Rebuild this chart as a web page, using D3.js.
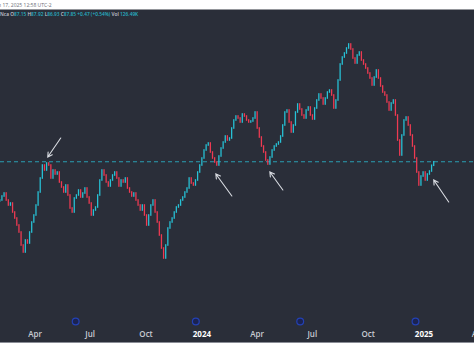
<!DOCTYPE html>
<html><head><meta charset="utf-8">
<script src="https://cdn.jsdelivr.net/npm/d3@7"></script>
<style>html,body{margin:0;padding:0;background:#fff;overflow:hidden}</style>
</head><body><svg id="c" width="474" height="356"></svg>
<script>
// ---- data ----
const startDate = "2023-02-02";
const endDate = "2025-01-17";
const firstOpen = 80.0;
const closes = [
80.2,81.0,81.6,80.2,79.2,79.6,77.8,76.6,75.2,73.8,71.2,69.8,72.2,71.6,73.8,75.8,77.2,79.2,81.8,84.6,
87.2,86.2,87.6,87.2,84.6,86.2,85.4,85.8,83.8,82.8,81.8,83.2,81.2,78.6,77.8,80.6,81.2,82.2,80.8,81.6,
82.6,80.8,79.6,77.2,78.2,78.8,81.2,84.2,86.2,85.2,83.8,83.0,84.2,85.2,85.8,84.6,83.0,84.2,83.8,84.6,
82.6,81.8,81.0,81.6,80.2,79.2,78.2,79.2,77.2,75.2,77.2,79.2,80.2,77.8,75.8,73.2,70.6,68.6,71.2,74.6,
75.8,76.6,77.8,78.8,79.2,80.2,80.8,81.8,82.6,84.6,83.6,83.2,84.2,85.8,87.2,88.6,90.2,91.2,91.6,89.8,
88.6,87.8,87.2,89.0,90.6,91.8,93.0,92.2,92.6,94.6,96.2,97.0,96.6,95.8,97.4,97.0,96.2,95.8,96.0,96.6,
97.8,94.6,92.8,91.0,89.8,88.2,87.4,88.8,90.2,91.0,91.4,91.8,93.0,95.2,97.8,98.2,95.8,93.8,95.2,97.8,
99.4,98.4,97.2,96.6,98.2,98.8,97.2,96.4,98.6,100.2,101.4,100.6,99.4,100.6,101.8,102.2,101.2,98.6,100.2,104.2,
107.4,108.8,109.6,110.6,111.4,110.4,108.6,107.6,109.2,109.8,108.2,107.4,106.6,105.6,104.6,103.2,104.8,106.2,104.6,103.0,
101.8,101.2,99.8,98.2,99.6,100.2,97.2,92.2,89.2,93.2,96.2,96.8,95.2,93.2,91.0,88.6,85.8,83.2,85.0,85.8,
84.2,85.4,86.0,87.15,87.85
];
const tickDates = ["2023-04-01","2023-07-01","2023-10-01","2024-01-01","2024-04-01","2024-07-01","2024-10-01","2025-01-01","2025-04-01"];
const tickLabels = ["Apr","Jul","Oct","2024","Apr","Jul","Oct","2025","Apr"];
const dividendDates = ["2023-06-07","2023-12-22","2024-06-11","2024-12-18"];
const levelPrice = 87.85;
const arrowTipDates = ["2023-04-22","2024-01-24","2024-04-22","2025-01-17"];
const arrowTipPrices = [88.8, 85.4, 85.8, 84.2];
const headerDate = "Jan 17, 2025 12:58 UTC-2";
const headerName = "Nca";
const ohlcLabels = ["O","H","L","C"];
const ohlcValues = ["87.15","87.92","86.93","87.85"];
const changeText = "+0.47 (+0.54%)";
const volText = "126.49K";

// ---- layout ----
const W = 474, H = 356;
const svg = d3.select("#c");
const plotTop = 9.5, plotBottom = 342;

svg.append("rect").attr("x",0).attr("y",0).attr("width",W).attr("height",H).attr("fill","#ffffff");
svg.append("rect").attr("x",0).attr("y",plotTop).attr("width",W).attr("height",plotBottom-plotTop).attr("fill","#2a2e39");
svg.append("line").attr("x1",0).attr("x2",W).attr("y1",plotBottom+0.5).attr("y2",plotBottom+0.5)
  .attr("stroke","#8a8d96").attr("stroke-width",1);

const parse = d3.utcParse("%Y-%m-%d");
const x = d3.scaleUtc().domain([parse("2023-04-01"), parse("2025-01-01")]).range([35, 424]);
const y = d3.scaleLinear().domain([52, 118]).range([341, 11]);

const t0 = parse(startDate).getTime(), t1 = parse(endDate).getTime();
const n = closes.length;
const candles = closes.map((c,i) => ({
  date: new Date(t0 + (t1 - t0) * i / (n - 1)),
  open: i === 0 ? firstOpen : closes[i-1],
  close: c
}));
const step = x(candles[1].date) - x(candles[0].date);
const bw = Math.max(1, step * 0.6);

const g = svg.append("g");
g.append("clipPath").attr("id","clip").append("rect").attr("x",0).attr("y",plotTop).attr("width",W).attr("height",plotBottom-plotTop);
const plot = g.append("g").attr("clip-path","url(#clip)");

// level dashed line
plot.append("line").attr("x1",0).attr("x2",W)
  .attr("y1",y(levelPrice)).attr("y2",y(levelPrice))
  .attr("stroke","#2a9fb3").attr("stroke-width",1).attr("stroke-dasharray","4,3");

// candles
plot.selectAll("rect.cdl").data(candles).enter().append("rect").attr("class","cdl")
  .attr("x", d => x(d.date) - bw/2)
  .attr("width", bw)
  .attr("y", d => Math.min(y(d.open), y(d.close)) - 0.8)
  .attr("height", d => Math.max(2, Math.abs(y(d.open) - y(d.close)) + 1.6))
  .attr("fill", d => d.close >= d.open ? "#27c2d6" : "#ee3a52");

// arrows
const tails = [[13,-19],[16,22],[13,18],[15,22]];
arrowTipDates.forEach((ds,i) => {
  const tx = x(parse(ds)), ty = y(arrowTipPrices[i]);
  const sx = tx + tails[i][0], sy = ty + tails[i][1];
  const ang = Math.atan2(ty - sy, tx - sx);
  const L = 5, a = Math.PI/6;
  const p = d3.path();
  p.moveTo(sx, sy); p.lineTo(tx, ty);
  p.moveTo(tx - L*Math.cos(ang - a), ty - L*Math.sin(ang - a)); p.lineTo(tx, ty);
  p.lineTo(tx - L*Math.cos(ang + a), ty - L*Math.sin(ang + a));
  plot.append("path").attr("d", p.toString()).attr("fill","none")
    .attr("stroke","#d9dce2").attr("stroke-width",1.1).attr("stroke-linecap","round");
});

// dividend markers
dividendDates.forEach(ds => {
  const cx = x(parse(ds));
  svg.append("circle").attr("cx",cx).attr("cy",321.5).attr("r",3.4)
    .attr("fill","#1b2352").attr("stroke","#2341b4").attr("stroke-width",1.2);
});

// x axis labels
tickDates.forEach((ds,i) => {
  const isYear = /^\d{4}$/.test(tickLabels[i]);
  svg.append("text").attr("x", x(parse(ds))).attr("y", 337)
    .attr("text-anchor","middle")
    .attr("font-family","'Open Sans', 'DejaVu Sans', sans-serif")
    .attr("font-size", 8)
    .attr("font-weight", isYear ? 700 : 600)
    .attr("fill", isYear ? "#ffffff" : "#c9ccd4")
    .text(tickLabels[i]);
});

// header
svg.append("text").attr("x",-6).attr("y",6.5)
  .attr("font-family","'Open Sans', sans-serif").attr("font-size",5)
  .attr("fill","#6a6d75").text(headerDate);

const ht = svg.append("text").attr("x",0).attr("y",16)
  .attr("font-family","'Open Sans', sans-serif").attr("font-size",4.8).attr("font-weight",600);
ht.append("tspan").attr("fill","#c9ccd4").text(headerName + " ");
ohlcLabels.forEach((l,i) => {
  ht.append("tspan").attr("fill","#c9ccd4").text(l);
  ht.append("tspan").attr("fill","#27b3c6").text(ohlcValues[i] + " ");
});
ht.append("tspan").attr("fill","#27b3c6").text(changeText + " ");
ht.append("tspan").attr("fill","#c9ccd4").text("Vol ");
ht.append("tspan").attr("fill","#27b3c6").text(volText);
</script>
</body></html>
